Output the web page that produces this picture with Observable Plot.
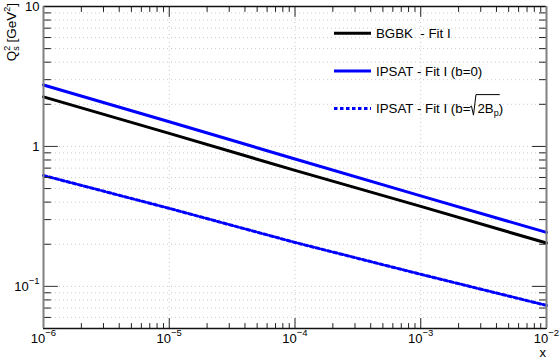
<!DOCTYPE html>
<html><head><meta charset="utf-8">
<script src="https://cdn.jsdelivr.net/npm/d3@7"></script>
<script src="https://cdn.jsdelivr.net/npm/@observablehq/plot@0.6"></script>
<style>body{margin:0;background:#fff}</style>
</head><body><div id="chart"></div>
<script>
// ---- data ----
const xValues = [1e-6, 1e-5, 1e-4, 1e-3, 1e-2];
const bgbk    = [2.26, 1.24, 0.674, 0.373, 0.204];
const ipsatB0 = [2.75, 1.50, 0.814, 0.443, 0.243];
const ipsatBp = [0.62, 0.361, 0.206, 0.122, 0.0731];

const xDomain = [1e-6, 1e-2];
const yDomain = [0.05, 10];
const xMajor = [1e-6, 1e-5, 1e-4, 1e-3, 1e-2];
const xLabels = ["10^-6", "10^-5", "10^-4", "10^-3", "10^-2"];
const yMajor = [0.1, 1, 10];
const yLabels = ["10^-1", "1", "10"];
const minorMult = [2, 3, 4, 5, 6, 7, 8, 9];
const xMinor = [1e-6, 1e-5, 1e-4, 1e-3].flatMap(d => minorMult.map(m => m * d));
const yMinor = [0.05, 0.06, 0.07, 0.08, 0.09].concat([0.1, 1].flatMap(d => minorMult.map(m => m * d)));

const legendItems = [
  {label: "BGBK  - Fit I", color: "#000000", dash: null},
  {label: "IPSAT - Fit I (b=0)", color: "#0000ff", dash: null},
  {label: "IPSAT - Fit I (b=", color: "#0000ff", dash: "3.5,2.5", sqrt: true}
];

const table = xValues.map((x, i) => ({x, bgbk: bgbk[i], b0: ipsatB0[i], bp: ipsatBp[i]}));

const FONT = "'Liberation Sans', Arial, Helvetica, sans-serif";
const tickShape = {draw(ctx, l) { ctx.moveTo(0, 0); ctx.lineTo(0, -l); }};

const plot = Plot.plot({
  width: 559, height: 360,
  marginLeft: 43, marginRight: 13, marginTop: 6, marginBottom: 32,
  x: {type: "log", domain: xDomain, axis: null},
  y: {type: "log", domain: yDomain, axis: null},
  style: {fontFamily: FONT, background: "#fff"},
  marks: [
    Plot.gridY(yMinor.concat(yMajor), {stroke: "#cccccc", strokeOpacity: 1, strokeDasharray: "1,3"}),
    Plot.gridX(xMajor, {stroke: "#cccccc", strokeOpacity: 1, strokeDasharray: "1,3"}),
    Plot.line(table, {x: "x", y: "bp", stroke: "#0000ff", strokeWidth: 3, strokeDasharray: "3.5,2.5"}),
    Plot.line(table, {x: "x", y: "bgbk", stroke: "#000000", strokeWidth: 3}),
    Plot.line(table, {x: "x", y: "b0", stroke: "#0000ff", strokeWidth: 3}),
    // ticks (inside the frame)
    Plot.vectorX(xMajor, {x: d => d, frameAnchor: "bottom", length: 10, rotate: 0, anchor: "start", shape: tickShape, stroke: "#222", strokeWidth: 1}),
    Plot.vectorX(xMinor, {x: d => d, frameAnchor: "bottom", length: 5, rotate: 0, anchor: "start", shape: tickShape, stroke: "#222", strokeWidth: 1}),
    Plot.vectorX(xMajor, {x: d => d, frameAnchor: "top", length: 10, rotate: 180, anchor: "start", shape: tickShape, stroke: "#222", strokeWidth: 1}),
    Plot.vectorX(xMinor, {x: d => d, frameAnchor: "top", length: 5, rotate: 180, anchor: "start", shape: tickShape, stroke: "#222", strokeWidth: 1}),
    Plot.vectorY(yMajor, {y: d => d, frameAnchor: "left", length: 14, rotate: 90, anchor: "start", shape: tickShape, stroke: "#333", strokeWidth: 1}),
    Plot.vectorY(yMinor, {y: d => d, frameAnchor: "left", length: 7, rotate: 90, anchor: "start", shape: tickShape, stroke: "#222", strokeWidth: 1}),
    Plot.vectorY(yMajor, {y: d => d, frameAnchor: "right", length: 14, rotate: -90, anchor: "start", shape: tickShape, stroke: "#222", strokeWidth: 1}),
    Plot.vectorY(yMinor, {y: d => d, frameAnchor: "right", length: 7, rotate: -90, anchor: "start", shape: tickShape, stroke: "#222", strokeWidth: 1}),
    // frame
    Plot.ruleY([yDomain[1]], {stroke: "#111", strokeWidth: 1.5}),
    Plot.ruleY([yDomain[0]], {stroke: "#111", strokeWidth: 1.5}),
    Plot.ruleX([xDomain[0]], {stroke: "#808080", strokeWidth: 2}),
    Plot.ruleX([xDomain[1]], {stroke: "#808080", strokeWidth: 2}),
    // tick labels
    Plot.text(xMajor, {x: d => d, frameAnchor: "bottom", dy: 14.5, text: (d, i) => xLabels[i], fontSize: 13, fill: "#000"}),
    Plot.text(yMajor, {y: d => d, frameAnchor: "left", dx: -4, textAnchor: "end", text: (d, i) => yLabels[i], fontSize: 13, fill: "#000"})
  ]
});

document.getElementById("chart").appendChild(plot);
const svg = d3.select(plot);

// superscripts in tick labels
svg.selectAll("text").each(function() {
  const t = this.textContent;
  if (t.includes("^")) {
    const [base, sup] = t.split("^");
    const el = d3.select(this);
    el.text(base);
    el.append("tspan").attr("dy", -7).attr("font-size", 9.5).text(sup.replace("-", "\u2212"));
  }
});

// y axis title
const yt = svg.append("text")
  .attr("transform", "translate(15.5,3) rotate(-90)")
  .attr("text-anchor", "end").attr("font-family", FONT).attr("font-size", 13.5).attr("fill", "#000");
yt.append("tspan").text("Q");
yt.append("tspan").attr("dy", -6).attr("font-size", 9).text("2");
yt.append("tspan").attr("dx", -5).attr("dy", 9).attr("font-size", 9).text("s");
yt.append("tspan").attr("dy", -3).text(" [GeV");
yt.append("tspan").attr("dy", -6).attr("font-size", 9).text("2");
yt.append("tspan").attr("dy", 6).text("]");

// x axis title
svg.append("text").attr("x", 546).attr("y", 357).attr("text-anchor", "end")
  .attr("font-family", FONT).attr("font-size", 13).attr("fill", "#000").text("x");

// legend
const lx0 = 334, lx1 = 371, ltx = 376, ly0 = 33.3, ldy = 37.6;
legendItems.forEach((it, i) => {
  const y = ly0 + i * ldy;
  svg.append("line").attr("x1", lx0).attr("x2", lx1).attr("y1", y).attr("y2", y)
    .attr("stroke", it.color).attr("stroke-width", 3).attr("stroke-dasharray", it.dash);
  const t = svg.append("text").attr("x", ltx).attr("y", y + 4.6).attr("text-anchor", "start")
    .attr("font-family", FONT).attr("font-size", 13.3).attr("fill", "#000")
    .style("white-space", "pre");
  t.append("tspan").text(it.label);
  if (it.sqrt) {
    t.append("tspan").attr("dx", 7).text("2B");
    t.append("tspan").attr("dy", 3).attr("font-size", 9).text("p");
    t.append("tspan").attr("dy", -3).text(")");
    const node = t.node();
    const n1 = it.label.length;
    const xs = node.getStartPositionOfChar(n1).x;
    const xe = node.getEndPositionOfChar(n1 + 2).x;
    const yb = y + 4.6;
    const r0 = xs - 7.5;
    svg.append("path")
      .attr("d", `M${r0},${yb - 6} L${r0 + 1.5},${yb - 7} L${r0 + 3.5},${yb + 2} L${r0 + 6},${yb - 18.5} H${xe + 1}`)
      .attr("fill", "none").attr("stroke", "#000").attr("stroke-width", 1);
  }
});
</script>
</body></html>
